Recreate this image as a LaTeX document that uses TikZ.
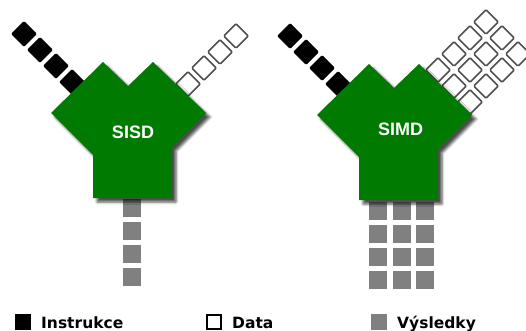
\documentclass[tikz,border=0pt]{standalone}
\usepackage{fontspec}
\setmainfont{Liberation Sans}
\newfontfamily\legendfont{DejaVu Sans}
\usetikzlibrary{shadows.blur}

\definecolor{cpugreen}{RGB}{0,122,0}
\definecolor{resultgray}{RGB}{128,128,128}
\definecolor{dataedge}{RGB}{80,80,80}

\tikzset{
  instr/.style={fill=black, rounded corners=1.2pt},
  datum/.style={draw=dataedge, line width=1.6pt, fill=white, rounded corners=1.2pt},
  result/.style={fill=resultgray},
  cpu/.style={fill=cpugreen,
    blur shadow={shadow xshift=4pt, shadow yshift=-4pt,
                 shadow blur radius=2.5pt, shadow opacity=70}},
  cpulabel/.style={text=white, inner sep=0pt,
    font=\bfseries\fontsize{18}{18}\selectfont},
  legendlabel/.style={inner sep=0pt, anchor=base west,
    font=\legendfont\bfseries\fontsize{15.5}{16}\selectfont},
}

% a square turned by 45 degrees: style, half diagonal, centre x, centre y
\newcommand\tile[4]{%
  \path[#1] ({#3},{#4-#2}) -- ({#3+#2},{#4}) -- ({#3},{#4+#2}) -- ({#3-#2},{#4}) -- cycle;}

% the processor outline (two lobes and a stem)
\newcommand\cpubody{%
  \path[cpu] (51,113) -- (103,62) -- (128,86) -- (153,62) -- (206,113)
     -- (172,147) -- (172,198) -- (93,198) -- (93,155) -- cycle;}

\begin{document}
\begin{tikzpicture}[x=1pt,y=-1pt]
\useasboundingbox (0,0) rectangle (526,331);

% ---------------- SISD ----------------
\foreach \k in {0,...,3} {
  \tile{instr}{13}{72-16*\k}{82-16*\k}
  \tile{datum}{12.3}{188+16*\k}{84-16*\k}
  \path[result] (123,{199+23*\k}) rectangle (141,{217+23*\k});
}
\cpubody
\node[cpulabel] (sisd) at (133,132.5) {SISD};

% ---------------- SIMD ----------------
\foreach \k in {0,...,3} {
  \tile{instr}{13}{338-16*\k}{84-16*\k}
}
\foreach \j in {-1,0,1} {
  \foreach \k in {0,...,3} {
    \tile{datum}{12.3}{454+16*\j+16*\k}{86+16*\j-16*\k}
  }
}
\foreach \c in {378,401.5,425} {
  \foreach \k in {0,...,3} {
    \path[result] ({\c-9},{202+23*\k}) rectangle ({\c+9},{220+23*\k});
  }
}
\begin{scope}[shift={(266,2)}]
  \cpubody
\end{scope}
\node[cpulabel] (simd) at (400.5,129.5) {SIMD};

% ---------------- legend ----------------
\path[fill=black] (15,314) rectangle (31,330);
\node[legendlabel] (linstr) at (41,328.5) {Instrukce};
\path[draw=black, line width=1.5pt, fill=white] (207,315) rectangle (221,329);
\node[legendlabel] (ldata) at (232,328.5) {Data};
\path[result] (371,314) rectangle (387,330);
\node[legendlabel] (lres) at (397,328.5) {Výsledky};

\end{tikzpicture}
\end{document}
